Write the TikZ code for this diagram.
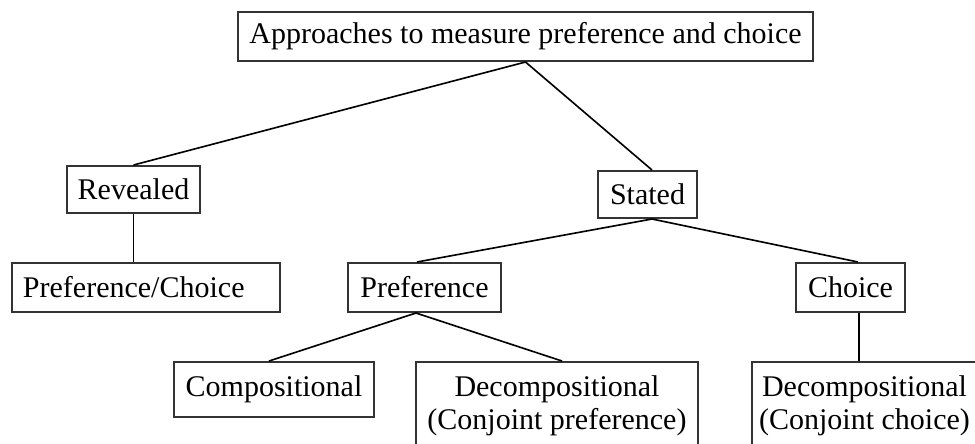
\documentclass[tikz,border=0pt]{standalone}
\usepackage{fontspec}
\setmainfont{Liberation Serif}
\usepackage{tikz}
\usetikzlibrary{calc,positioning}
\tikzstyle{box}   = [draw=black!80, line width=0.8pt, inner sep=0pt, minimum height=18.8pt, text centered]
\tikzstyle{link}  = [line width=0.65pt]

\begin{document}
\begin{tikzpicture}[x=0.4pt,y=-0.4pt,font=\fontsize{12}{13.2}\selectfont]
        \clip (0,0) rectangle (975,443);
        \useasboundingbox (0,0) rectangle (975,443);

        % top level
        \node[box, minimum width=230pt, minimum height=19.6pt] (approach) at (525.5,36.5) {Approaches to measure preference and choice};

        % second level
        \node[box, minimum width=53.2pt] (revealed) at (133.5,189.5) {Revealed};
        \node[box, minimum width=39.6pt] (stated) at (647.5,194.5) {Stated};

        % third level
        \node[box, minimum width=107.2pt, minimum height=19.6pt, text width=98.4pt, inner xsep=4.4pt, align=left] (prefchoice) at (146,287.5) {Preference/Choice};
        \node[box, minimum width=61.2pt, minimum height=19.6pt] (preference) at (424.5,287.5) {Preference};
        \node[box, minimum width=43.6pt, minimum height=19.6pt] (choice) at (850.5,287.5) {Choice};

        % fourth level
        \node[box, minimum width=80pt, minimum height=22pt] (compositional) at (274,389.5) {Compositional};
        \node[box, minimum width=112.8pt, minimum height=35.2pt, align=center] (decomppref) at (557,406) {Decompositional\\(Conjoint preference)};
        \node[box, minimum width=90pt, minimum height=35.2pt, align=center] (decompchoice) at (864.5,406) {Decompositional\\(Conjoint choice)};

        \draw[link] (approach.south) -- (revealed.north);
        \draw[link] (approach.south) -- ([xshift=1.8pt]stated.north);
        \draw[link] (revealed.south) -- (revealed.south |- prefchoice.north);
        \draw[link] ([xshift=1.8pt]stated.south) -- ([xshift=-3pt]preference.north);
        \draw[link] ([xshift=1.8pt]stated.south) -- ([xshift=3pt]choice.north);
        \draw[link] ([xshift=-3.4pt]preference.south) -- ([xshift=-2pt]compositional.north);
        \draw[link] ([xshift=-3.4pt]preference.south) -- ([xshift=2pt]decomppref.north);
        \draw[link] ([xshift=3.4pt]choice.south) -- ([xshift=3.4pt]choice.south |- decompchoice.north);
\end{tikzpicture}
\end{document}
